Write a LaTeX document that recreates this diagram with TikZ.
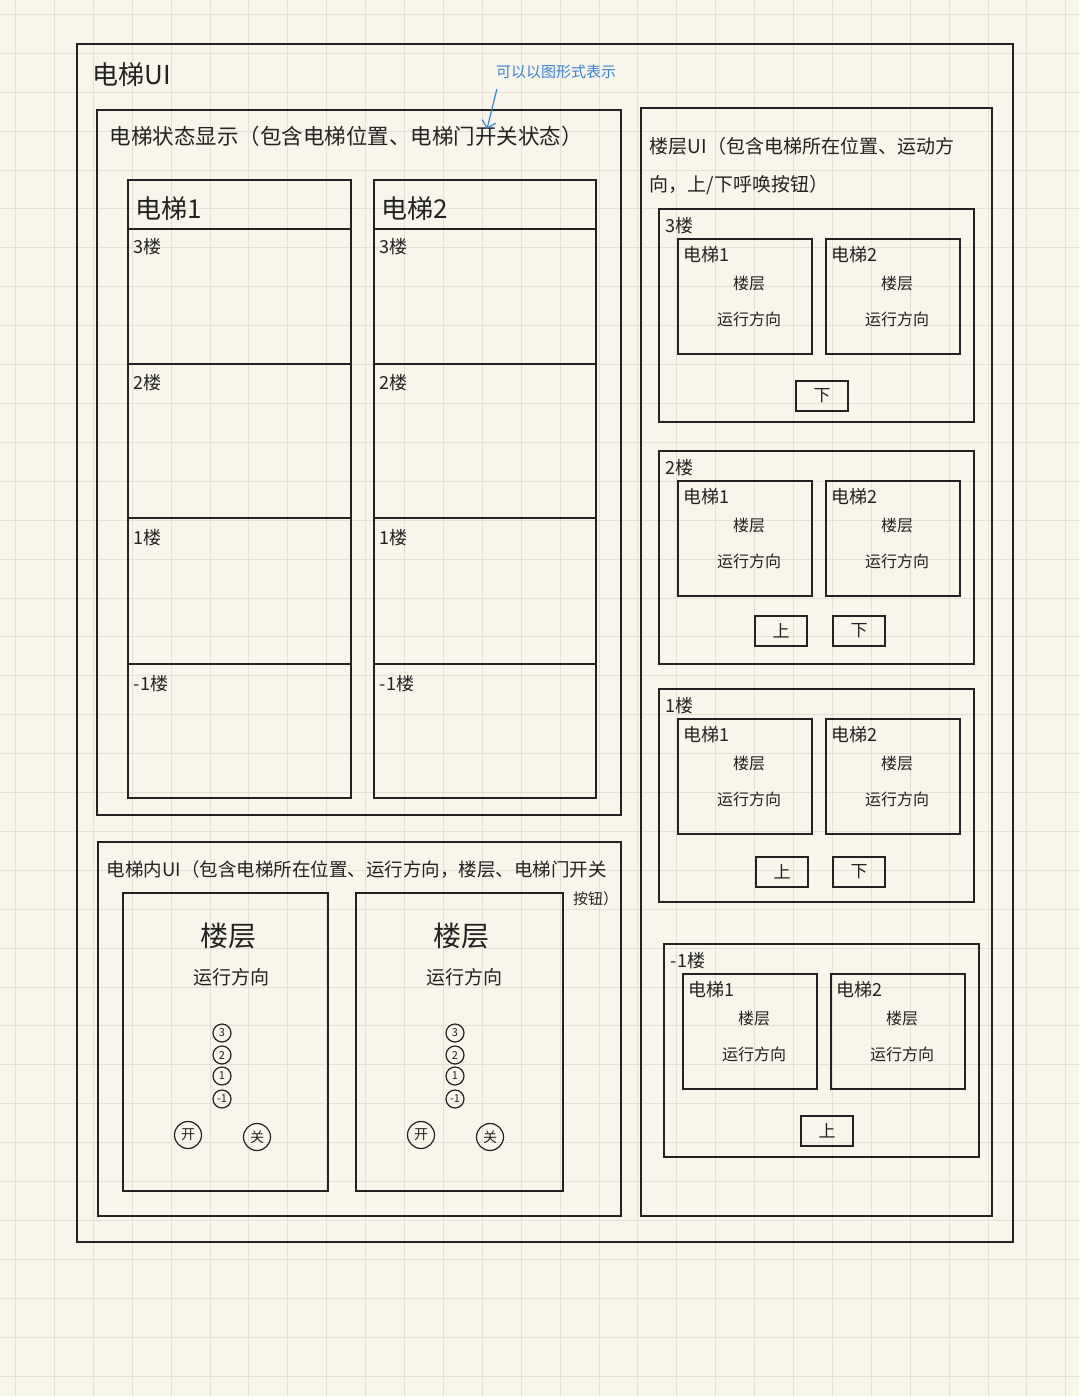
\documentclass[tikz,border=0pt]{standalone}
\usepackage{fontspec}
\setmainfont{Noto Sans CJK SC}
\usetikzlibrary{arrows.meta}
\definecolor{paper}{HTML}{F8F5EB}
\definecolor{gridc}{HTML}{E4E0D5}
\definecolor{ink}{HTML}{222222}
\definecolor{pen}{HTML}{3C82D8}
\newcommand{\fs}[1]{\fontsize{#1}{#1}\selectfont}

\begin{document}
\begin{tikzpicture}[x=1pt,y=-1pt,line width=1.6pt,>={Straight Barb[length=7pt]},
  box/.style={draw=ink,line width=1.6pt},
  lbl/.style={text=ink,inner sep=0pt,anchor=west},
  btn/.style={draw=ink,line width=1.6pt,minimum width=52pt,minimum height=30pt,inner sep=0pt,text=ink,font=\fs{17}},
  knob/.style={circle,draw=ink,line width=1.2pt,minimum size=18pt,inner sep=0pt,text=ink,font=\fs{11}},
  bigknob/.style={circle,draw=ink,line width=1.2pt,minimum size=27pt,inner sep=0pt,text=ink,font=\fs{14}}]
% 纸面与方格
\fill[paper] (0,0) rectangle (1079,1396);
\useasboundingbox (0,0) rectangle (1079,1396);
\foreach \i in {0,...,27}
  \draw[gridc,line width=1pt] (15.5+\i*38.9,0) -- (15.5+\i*38.9,1396);
\foreach \j in {0,...,35}
  \draw[gridc,line width=1pt] (0,14.5+\j*38.9) -- (1079,14.5+\j*38.9);
% 外框
\draw[box] (77,44) rectangle (1013,1242);
\node[lbl,font=\fs{26}] (title) at (92,75) {电梯UI};
% 电梯状态显示
\draw[box] (97,110) rectangle (621,815);
\node[lbl,font=\fs{21.5}] (stat) at (109,136) {电梯状态显示（包含电梯位置、电梯门开关状态）};
\foreach \cx/\cw/\ci in {128/223/1,374/222/2}{
  \draw[box] (\cx,180) rectangle ++(\cw,618);
  \foreach \ly in {229,364,518,664} \draw[box] (\cx,\ly) -- ++(\cw,0);
  \node[lbl,font=\fs{26}] (col\ci) at (\cx+7,209) {电梯\ci};
  \foreach \ly/\fl/\mk in {247/3/a,383/2/b,538/1/c,684/-1/d}
    \node[lbl,font=\fs{18}] (col\ci\mk) at (\cx+5,\ly) {\fl 楼};
}
% 蓝色批注
\node[text=pen,font=\fs{15}] (note) at (556,72) {可以以图形式表示};
\coordinate (door) at (487,129);
\draw[pen,line width=1.2pt,->] ([xshift=5pt,yshift=-6pt]note.south west) -- (door);
% 电梯内UI
\draw[box] (98,842) rectangle (621,1216);
\node[lbl,font=\fs{18.5}] (inner) at (106,870) {电梯内UI（包含电梯所在位置、运行方向，楼层、电梯门开关};
\node[lbl,anchor=east,font=\fs{15}] (inner2) at (619,899) {按钮）};
\foreach \px/\pw/\k in {123/205/1,356/207/2}{
  \draw[box] (\px,893) rectangle ++(\pw,298);
  \node[text=ink,font=\fs{28}] (lvl\k) at (\px+105,936) {楼层};
  \node[text=ink,font=\fs{19}] (dir\k) at (\px+108,977) {运行方向};
  \foreach \ky/\kn/\kt in {1033/a/3,1055/b/2,1076/c/1,1099/d/-1}
    \node[knob] (key\k\kn) at (\px+99,\ky) {\kt};
  \node[bigknob] (open\k) at (\px+65,1135) {开};
  \node[bigknob] (shut\k) at (\px+134,1137) {关};
}
% 楼层UI
\draw[box] (641,108) rectangle (992,1216);
\node[lbl,font=\fs{19}] (hall) at (649,146) {楼层UI（包含电梯所在位置、运动方};
\node[lbl,font=\fs{19}] (hall2) at (649,185) {向，上/下呼唤按钮）};
\foreach \fx/\fy/\fl/\k in {659/209/3/a,659/451/2/b,659/689/1/c,664/944/-1/d}{
  \draw[box] (\fx,\fy) rectangle ++(315,213);
  \node[lbl,font=\fs{18}] (floor\k) at (\fx+6,\fy+17) {\fl 楼};
  \foreach \sx/\el in {19/1,167/2}{
    \draw[box] (\fx+\sx,\fy+30) rectangle ++(134,115);
    \node[lbl,font=\fs{18}] (lift\k\el) at (\fx+\sx+5,\fy+46) {电梯\el};
    \node[text=ink,font=\fs{16}] (lvl\k\el) at (\fx+\sx+71,\fy+74) {楼层};
    \node[text=ink,font=\fs{16}] (mov\k\el) at (\fx+\sx+71,\fy+110) {运行方向};
  }
}
% 呼唤按钮
\node[btn] (down3) at (822,396) {下};
\node[btn] (up2) at (781,631) {上};
\node[btn] (down2) at (859,631) {下};
\node[btn] (up1) at (782,872) {上};
\node[btn] (down1) at (859,872) {下};
\node[btn] (upb) at (827,1131) {上};
\end{tikzpicture}
\end{document}
